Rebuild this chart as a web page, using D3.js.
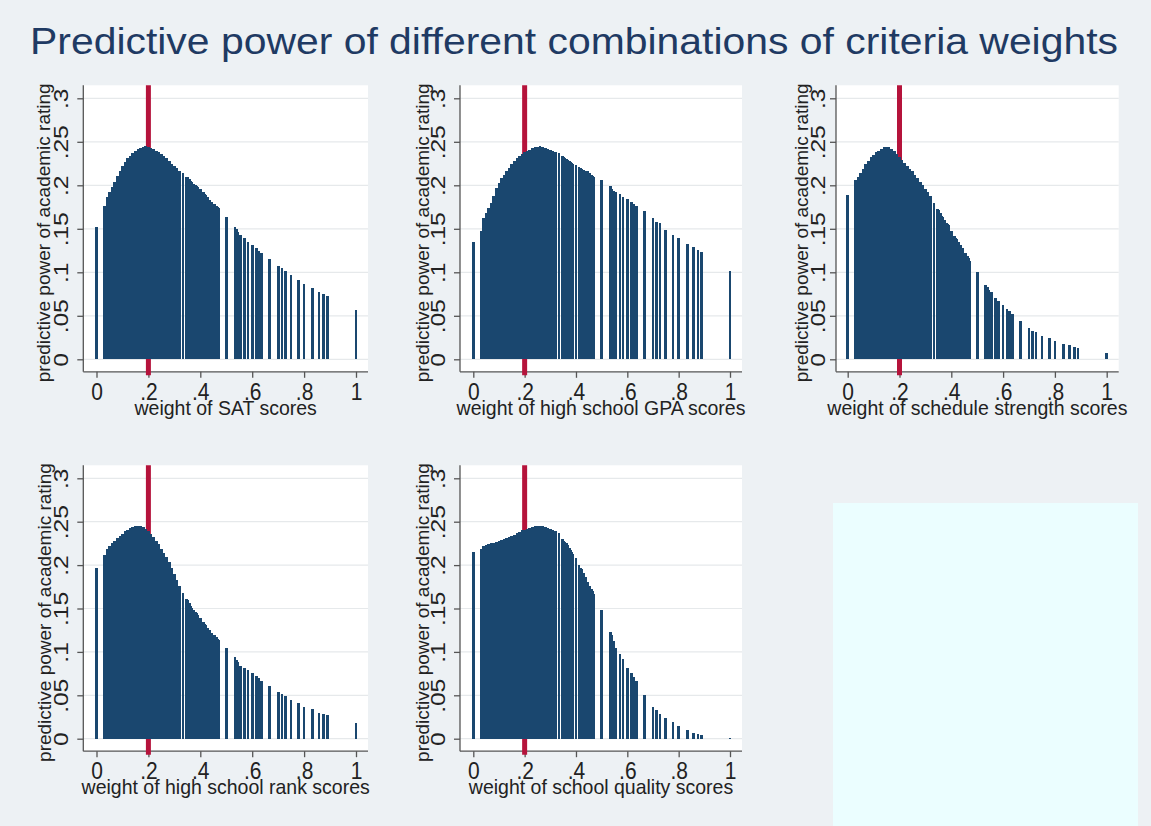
<!DOCTYPE html>
<html>
<head>
<meta charset="utf-8">
<script src="https://cdn.jsdelivr.net/npm/d3@7"></script>
<style>
  body { margin: 0; background: #edf1f4; }
  svg { display: block; }
  text { font-family: Arial, 'Liberation Sans', sans-serif; }
</style>
</head>
<body>
<script>
// weight given to one criterion (same grid of weights in every panel)
const weights = [0,
  .03, .04, .05, .06, .07, .08, .09, .10, .11, .12,
  .13, .14, .15, .16, .17, .18, .19, .20, .21, .22,
  .23, .24, .25, .26, .27, .28, .29, .30, .31, .32,
  .3333, .3478, .35, .3529, .3571, .3636, .3684, .375, .381, .3846, .3889,
  .4, .4118, .4167, .4211, .4286, .4375, .4444, .4545, .4615, .4667, .4706,
  .5,
  .5333, .5385, .5455, .5556, .5714, .5833, .6, .6154, .625, .6364,
  .6667, .7, .7143, .7273, .75, .7778, .8, .8333, .8571, .875, .8889,
  1];

// predictive power of academic rating, one list per criterion
const satPower = [.152,
  .176, .186, .192, .198, .204, .211, .217, .222, .227, .231,
  .234, .237, .240, .242, .243, .244, .245, .244, .243, .242,
  .240, .238, .236, .234, .231, .228, .225, .222, .220, .217,
  .214, .210, .209, .208, .207, .205, .204, .202, .200, .199, .198,
  .196, .192, .190, .189, .186, .183, .181, .178, .176, .175, .174,
  .164,
  .152, .150, .146, .143, .139, .135, .131, .128, .125, .122,
  .115, .107, .105, .102, .097, .091, .087, .082, .077, .075, .073,
  .057];

const gpaPower = [.135,
  .148, .162, .168, .174, .180, .188, .197, .203, .208, .212,
  .216, .220, .224, .228, .231, .234, .236, .238, .240, .241,
  .243, .244, .2445, .245, .244, .243, .242, .241, .240, .238,
  .237, .234, .233, .232, .231, .230, .229, .228, .227, .226, .225,
  .223, .221, .220, .219, .218, .217, .216, .214, .212, .211, .210,
  .206,
  .199, .196, .193, .192, .190, .187, .184, .181, .179, .176,
  .170, .162, .158, .157, .149, .143, .140, .133, .129, .126, .123,
  .101];

const schedulePower = [.189,
  .206, .210, .214, .219, .224, .228, .232, .235, .238, .240,
  .242, .2435, .244, .2435, .242, .239, .236, .232, .229, .226,
  .222, .219, .216, .212, .208, .204, .200, .196, .192, .188,
  .180, .173, .172, .170, .168, .165, .163, .160, .157, .156, .154,
  .147, .142, .140, .138, .135, .131, .128, .122, .119, .116, .113,
  .100,
  .085, .083, .080, .077, .071, .067, .062, .058, .056, .052,
  .044, .036, .033, .031, .027, .024, .021, .018, .016, .014, .013,
  .007];

const rankPower = [.197,
  .212, .219, .222, .225, .228, .231, .234, .236, .239, .241,
  .243, .244, .245, .2455, .245, .244, .242, .239, .236, .232,
  .228, .224, .219, .214, .209, .203, .197, .190, .183, .176,
  .168, .161, .160, .158, .156, .153, .151, .148, .146, .145, .143,
  .139, .134, .132, .131, .128, .125, .122, .119, .117, .115, .114,
  .104,
  .094, .091, .088, .084, .082, .079, .076, .072, .070, .067,
  .061, .054, .051, .049, .045, .041, .037, .034, .030, .029, .027,
  .018];

const qualityPower = [.215,
  .218, .222, .223, .224, .225, .226, .227, .228, .229, .230,
  .231, .232, .234, .235, .237, .238, .240, .241, .242, .243,
  .244, .245, .2455, .2455, .245, .244, .243, .242, .241, .239,
  .237, .230, .229, .228, .227, .225, .223, .220, .217, .215, .213,
  .208, .200, .197, .195, .191, .186, .181, .176, .172, .170, .167,
  .148,
  .123, .119, .112, .104, .098, .092, .081, .076, .071, .066,
  .050, .037, .033, .029, .024, .019, .015, .010, .007, .005, .004,
  .001];

const xTicks = [0, .2, .4, .6, .8, 1];
const xTickLabels = ['0', '.2', '.4', '.6', '.8', '1'];
const yTicks = [0, .05, .1, .15, .2, .25, .3];
const yTickLabels = ['0', '.05', '.1', '.15', '.2', '.25', '.3'];
const chosenWeight = 0.2;

const mainTitle = 'Predictive power of different combinations of criteria weights';
const yTitle = 'predictive power of academic rating';

const panels = [
  { xTitle: 'weight of SAT scores', values: satPower,
    left: 96.5, top: 98.3, w: 259.5, h: 261, axisOff: 13.2, labOff: 28.2, titleOff: 47 },
  { xTitle: 'weight of high school GPA scores', values: gpaPower,
    left: 473.3, top: 98.3, w: 256.7, h: 261, axisOff: 13.3, labOff: 28.3, titleOff: 44 },
  { xTitle: 'weight of schedule strength scores', values: schedulePower,
    left: 847.7, top: 98.3, w: 259, h: 261, axisOff: 11.7, labOff: 22.7, titleOff: 40 },
  { xTitle: 'weight of high school rank scores', values: rankPower,
    left: 96.5, top: 478.3, w: 259.5, h: 260.4, axisOff: 13.2, labOff: 28.2, titleOff: 45.5 },
  { xTitle: 'weight of school quality scores', values: qualityPower,
    left: 473.3, top: 478.3, w: 256.7, h: 260.4, axisOff: 13.3, labOff: 28.3, titleOff: 44 }
];

const width = 1151;
const height = 826;
const navy = '#1a476f';
const red = '#b5133b';
const stretch = 1.17; // the slide picture is a little taller than wide

const svg = d3.select('body').append('svg')
  .attr('width', width)
  .attr('height', height);

svg.append('rect')
  .attr('width', width).attr('height', height)
  .attr('fill', '#edf1f4');

// empty box in the lower right corner of the slide
svg.append('rect')
  .attr('x', 833).attr('y', 503)
  .attr('width', 305).attr('height', 323)
  .attr('fill', '#ebfeff');

svg.append('text')
  .attr('x', 30)
  .attr('y', 54)
  .attr('font-size', 36)
  .attr('fill', '#1f3a63')
  .attr('textLength', 1088)
  .attr('lengthAdjust', 'spacingAndGlyphs')
  .text(mainTitle);

panels.forEach((p) => {
  const x = d3.scaleLinear().domain([0, 1]).range([0, p.w]);
  const y = d3.scaleLinear().domain([0, 0.3]).range([p.h, 0]);
  const left = -p.axisOff;
  const right = p.w + 12;
  const top = -13;
  const bottom = p.h + 12.5;

  const g = svg.append('g').attr('transform', `translate(${p.left}, ${p.top})`);

  g.append('rect')
    .attr('x', left).attr('y', top)
    .attr('width', right - left).attr('height', bottom - top)
    .attr('fill', '#ffffff');

  // grid
  g.selectAll('line.grid')
    .data(yTicks)
    .enter().append('line')
      .attr('class', 'grid')
      .attr('x1', left).attr('x2', right)
      .attr('y1', d => y(d)).attr('y2', d => y(d))
      .attr('stroke', '#e6e9eb')
      .attr('stroke-width', 1.2);

  // y axis
  const yAxis = d3.axisLeft(y)
    .tickValues(yTicks)
    .tickSize(6)
    .tickFormat((d, i) => yTickLabels[i]);
  const ya = g.append('g')
    .attr('transform', `translate(${left}, 0)`)
    .call(yAxis);
  ya.select('.domain').attr('d', `M0,${top}V${bottom}`);
  ya.selectAll('line, path').attr('stroke', '#555').attr('stroke-width', 1.3);
  ya.selectAll('text')
    .attr('font-size', 21)
    .attr('fill', '#222')
    .attr('text-anchor', 'middle')
    .attr('dy', 0)
    .attr('x', 0)
    .attr('transform', `translate(${-p.labOff + p.axisOff}, 0) rotate(-90) scale(${stretch}, 1)`);

  // x axis
  const xAxis = d3.axisBottom(x)
    .tickValues(xTicks)
    .tickSize(6)
    .tickFormat((d, i) => xTickLabels[i]);
  const xa = g.append('g')
    .attr('transform', `translate(0, ${bottom})`)
    .call(xAxis);
  xa.select('.domain').attr('d', `M${left},0H${right}`);
  xa.selectAll('line, path').attr('stroke', '#555').attr('stroke-width', 1.3);
  xa.selectAll('text')
    .attr('font-size', 21)
    .attr('fill', '#222')
    .attr('dy', 0)
    .attr('y', 0)
    .attr('transform', `translate(0, 28) scale(1, ${stretch})`);

  // reference line at the chosen weight
  g.append('line')
    .attr('x1', x(chosenWeight)).attr('x2', x(chosenWeight))
    .attr('y1', top).attr('y2', bottom + 3.5)
    .attr('stroke', red)
    .attr('stroke-width', 5);

  g.selectAll('rect.bar')
    .data(weights.map((wt, i) => ({ wt, v: p.values[i] })))
    .enter().append('rect')
      .attr('class', 'bar')
      .attr('x', d => x(d.wt) - 1.35)
      .attr('width', 2.7)
      .attr('y', d => y(d.v))
      .attr('height', d => y(0) - y(d.v))
      .attr('fill', navy)
      .attr('shape-rendering', 'crispEdges');

  g.append('text')
    .attr('transform', `translate(${(left + right) / 2}, ${p.h + 55.5}) scale(1, 1.08)`)
    .attr('text-anchor', 'middle')
    .attr('font-size', 19.5)
    .attr('fill', '#222')
    .text(p.xTitle);

  g.append('text')
    .attr('transform', `translate(${-p.titleOff}, ${p.h / 2 + 4}) rotate(-90)`)
    .attr('text-anchor', 'middle')
    .attr('font-size', 19)
    .attr('fill', '#222')
    .text(yTitle);
});
</script>
</body>
</html>
